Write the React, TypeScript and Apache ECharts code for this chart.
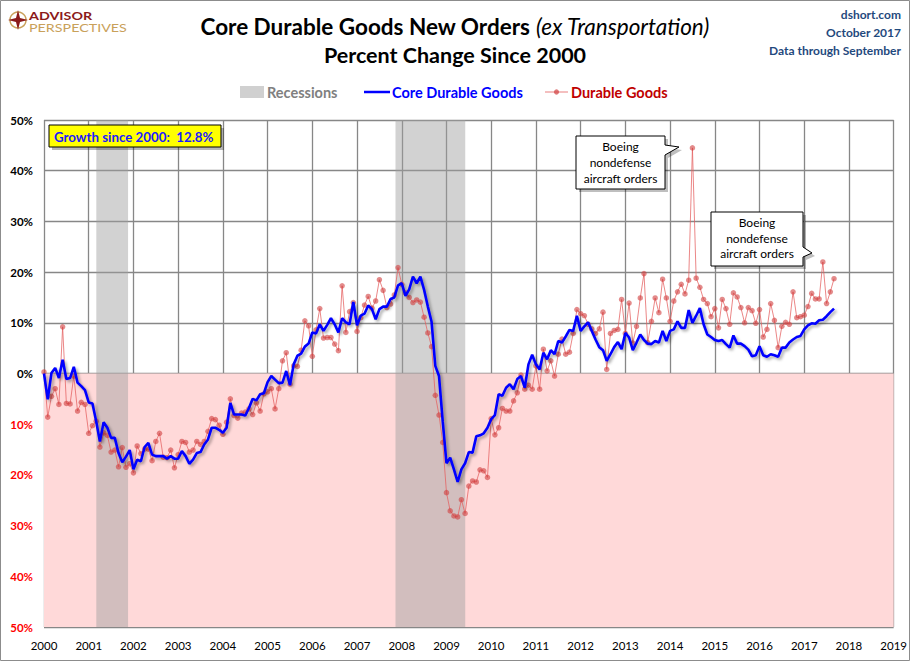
import React, { useEffect, useRef } from "react";
import * as echarts from "echarts";

const startYear = 2000;
const endYear = 2019;

// Durable Goods, % change since Jan 2000 (monthly, Jan 2000 - Sep 2017)
const durableGoods: number[] = [
  0.3, -8.6, -4.5, -3.0, -6.1, 9.2, -5.9, -6.0, -0.5, -7.4, -5.7, -6.1,
  -11.8, -10.3, -9.4, -14.5, -11.7, -12.2, -15.5, -15.1, -18.4, -14.6, -18.5, -17.8,
  -19.6, -14.3, -15.8, -14.9, -14.9, -17.2, -13.4, -11.8, -16.5, -16.6, -15.1, -18.6,
  -16.0, -13.4, -13.6, -15.5, -15.1, -13.4, -14.0, -13.4, -11.4, -8.9, -9.1, -10.2,
  -12.0, -9.6, -5.0, -8.3, -8.8, -7.8, -7.6, -7.0, -8.1, -5.8, -7.4, -4.0,
  -3.6, -3.0, -7.0, -3.0, 2.5, 4.1, -2.1, 1.5, 1.4, 4.6, 10.4, 9.4,
  3.4, 8.6, 12.8, 7.0, 7.1, 7.1, 5.8, 4.5, 17.3, 8.1, 12.2, 14.0,
  8.3, 11.0, 13.5, 15.2, 12.9, 14.3, 18.5, 16.4, 13.0, 13.7, 15.5, 20.9,
  17.6, 15.9, 15.0, 14.0, 14.5, 14.1, 11.1, 8.0, 5.3, -4.3, -8.2, -13.6,
  -23.5, -27.1, -28.1, -28.3, -24.9, -27.6, -22.2, -21.2, -21.4, -19.0, -19.2, -20.5,
  -8.9, -12.1, -10.7, -6.9, -7.4, -7.4, -5.4, -3.8, -0.3, -3.1, -2.3, -3.1,
  1.5, -3.1, 4.8, 0.5, 2.5, -0.5, 3.8, 6.8, 3.8, 4.2, 7.9, 12.6,
  11.8, 11.4, 9.7, 8.8, 7.9, 8.8, 12.1, 0.8, 7.9, 8.5, 8.7, 14.6,
  7.9, 13.9, 6.0, 9.3, 14.9, 19.7, 6.1, 10.3, 14.9, 12.0, 18.6, 14.9,
  10.3, 14.3, 16.1, 17.6, 15.7, 18.4, 44.5, 18.8, 17.0, 14.6, 13.8, 11.2,
  12.8, 9.0, 14.6, 12.8, 9.7, 15.9, 15.1, 13.0, 10.0, 13.0, 12.4, 9.9,
  12.6, 7.2, 8.7, 13.8, 10.5, 5.1, 9.3, 10.1, 9.7, 16.1, 11.0, 11.2,
  11.5, 13.2, 15.8, 14.7, 14.7, 22.0, 13.8, 16.1, 18.7,
];

// Core Durable Goods (ex Transportation), % change since Jan 2000
const coreDurableGoods: number[] = [
  0, -5.1, 0.1, 1.1, -0.9, 2.7, -1.1, -0.9, 1.3, -1.8, -2.5, -3.3,
  -5.7, -5.9, -9.4, -13.4, -9.6, -10.7, -12.7, -12.7, -15.7, -17.5, -16.4, -15.1,
  -18.9, -17.0, -17.3, -14.5, -13.7, -16.0, -16.3, -16.3, -16.3, -16.8, -16.3, -16.8,
  -16.8, -15.3, -16.3, -17.8, -17.0, -15.7, -15.5, -14.0, -13.0, -10.7, -10.7, -11.1,
  -11.7, -10.7, -5.8, -8.1, -8.1, -8.1, -8.3, -6.8, -5.0, -5.3, -4.1, -3.9,
  -1.7, -0.5, -1.2, -1.9, -1.8, 0.5, -2.3, 1.8, 3.5, 3.9, 5.3, 5.9,
  8.1, 7.9, 9.7, 8.4, 9.6, 10.9, 9.7, 8.1, 10.9, 10.1, 9.7, 14.1,
  9.5, 11.4, 11.8, 13.4, 12.7, 10.7, 12.7, 13.2, 13.2, 14.7, 15.0, 17.4,
  17.8, 15.3, 16.6, 19.1, 17.8, 19.1, 16.5, 13.2, 10.2, 1.5, -0.5, -9.5,
  -17.7, -16.6, -18.9, -21.4, -18.9, -17.7, -15.5, -15.6, -12.4, -12.2, -11.8, -10.7,
  -9.0, -8.2, -4.1, -4.4, -2.8, -2.1, -3.1, -1.1, -0.5, -2.8, 1.8, 3.7,
  1.8, 0.8, 4.1, 2.8, 4.6, 3.8, 6.4, 6.1, 7.3, 8.6, 8.4, 11.4,
  8.4, 9.3, 10.1, 8.4, 6.7, 5.2, 4.6, 2.5, 3.8, 5.2, 6.2, 4.8,
  8.0, 7.1, 4.6, 6.1, 7.7, 6.6, 5.9, 5.8, 6.4, 6.1, 8.4, 6.4,
  8.4, 8.7, 10.3, 9.0, 9.0, 12.5, 10.0, 11.4, 12.9, 9.7, 7.7, 7.2,
  6.6, 6.4, 6.6, 5.8, 5.1, 7.5, 5.9, 5.9, 5.4, 4.7, 3.4, 3.6,
  5.4, 3.6, 3.3, 3.8, 3.6, 3.3, 5.1, 5.1, 6.1, 6.7, 7.2, 7.4,
  8.7, 9.5, 9.9, 9.8, 10.5, 10.6, 11.3, 12.1, 12.8,
];

// Recessions (decimal years)
const recessionStarts = [2001.17, 2007.86];
const recessionEnds = [2001.88, 2009.42];

const headerLines = ["dshort.com", "October 2017", "Data through September"];
const calloutLines = ["Boeing", "nondefense", "aircraft orders"];

const FONT = "Lato, 'Open Sans', 'DejaVu Sans', sans-serif";

export default function App() {
  const ref = useRef<HTMLDivElement>(null);

  useEffect(() => {
    if (!ref.current) return;
    const chart = echarts.init(ref.current, null, { renderer: "svg" });
    const toXY = (arr: number[]) => arr.map((v, i) => [startYear + i / 12, v]);
    const growth = coreDurableGoods[coreDurableGoods.length - 1].toFixed(1);

    const calloutText = (cx: number, ys: number[]) =>
      calloutLines.map((t, i) => ({
        type: "text",
        x: cx,
        y: ys[i],
        z: 20,
        style: {
          text: t,
          fill: "#000",
          font: `12px ${FONT}`,
          align: "center",
          verticalAlign: "middle",
        },
      }));

    const option: any = {
      animation: false,
      backgroundColor: "#fff",
      grid: { left: 44, right: 16, top: 120, bottom: 34, containLabel: false },
      xAxis: {
        type: "value",
        min: startYear,
        max: endYear,
        interval: 1,
        z: 1,
        axisLine: { show: false },
        axisTick: { show: false },
        splitLine: { show: true, lineStyle: { color: "#878787", width: 1.3 } },
        axisLabel: {
          margin: 12,
          color: "#000",
          fontFamily: FONT,
          fontSize: 11.5,
          formatter: (v: number) => String(v),
        },
      },
      yAxis: {
        type: "value",
        min: -50,
        max: 50,
        interval: 10,
        z: 1,
        axisLine: { show: false },
        axisTick: { show: false },
        splitLine: { show: true, lineStyle: { color: "#878787", width: 1.3 } },
        axisLabel: {
          margin: 11,
          formatter: (v: number) => (v < 0 ? `{n|${-v}%}` : `{p|${v}%}`),
          rich: {
            n: { color: "#ff0000", fontWeight: "bold", fontFamily: FONT, fontSize: 11.5 },
            p: { color: "#000", fontWeight: "bold", fontFamily: FONT, fontSize: 11.5 },
          },
        },
      },
      series: [
        {
          type: "line",
          name: "background",
          z: 0,
          silent: true,
          data: [[startYear, 0]],
          symbol: "none",
          lineStyle: { opacity: 0 },
          markArea: {
            silent: true,
            data: [
              [
                { yAxis: 0, itemStyle: { color: "#ffd9d9" } },
                { yAxis: -50 },
              ],
              ...recessionStarts.map((s, i) => [
                { xAxis: s, itemStyle: { color: "rgba(160,160,160,0.47)" } },
                { xAxis: recessionEnds[i] },
              ]),
            ],
          },
        },
        {
          type: "line",
          name: "Durable Goods",
          z: 2,
          data: toXY(durableGoods),
          symbol: "circle",
          symbolSize: 5.5,
          showSymbol: true,
          itemStyle: { color: "rgba(208,62,62,0.6)", borderWidth: 0 },
          lineStyle: { color: "rgba(228,95,95,0.75)", width: 1 },
        },
        {
          type: "line",
          name: "Core Durable Goods",
          z: 3,
          data: toXY(coreDurableGoods),
          symbol: "none",
          lineStyle: {
            color: "#0000ff",
            width: 2.6,
            shadowColor: "rgba(0,0,0,0.35)",
            shadowBlur: 3,
            shadowOffsetX: 2,
            shadowOffsetY: 2,
          },
        },
      ],
      graphic: [
        // outer border
        {
          type: "rect",
          z: 30,
          shape: { x: 0.5, y: 0.5, width: 909, height: 660 },
          style: { fill: "none", stroke: "#8c8c8c", lineWidth: 1 },
        },
        // logo
        {
          type: "circle",
          z: 20,
          shape: { cx: 18, cy: 20, r: 8 },
          style: { fill: "none", stroke: "#c9a15a", lineWidth: 1.5 },
        },
        {
          type: "polygon",
          z: 21,
          shape: {
            points: [
              [18, 10], [20, 18], [28, 20], [20, 22], [18, 30], [16, 22], [8, 20], [16, 18],
            ],
          },
          style: { fill: "#8b1a1a" },
        },
        {
          type: "text",
          x: 29,
          y: 15.5,
          z: 20,
          scaleX: 1.3,
          style: {
            text: "ADVISOR",
            fill: "#8b1a1a",
            font: `bold 11px ${FONT}`,
            align: "left",
            verticalAlign: "middle",
          },
        },
        {
          type: "text",
          x: 29,
          y: 27.5,
          z: 20,
          scaleX: 1.3,
          style: {
            text: "PERSPECTIVES",
            fill: "#c9a15a",
            font: `11px ${FONT}`,
            align: "left",
            verticalAlign: "middle",
          },
        },
        // title
        {
          type: "text",
          x: 455,
          y: 26,
          z: 20,
          style: {
            text: "{b|Core Durable Goods New Orders }{i|(ex Transportation)}",
            align: "center",
            verticalAlign: "middle",
            rich: {
              b: { fontFamily: FONT, fontSize: 22.5, fontWeight: "bold", fill: "#000" },
              i: { fontFamily: FONT, fontSize: 22.5, fontStyle: "italic", fill: "#000" },
            },
          },
        },
        {
          type: "text",
          x: 455,
          y: 55,
          z: 20,
          style: {
            text: "Percent Change Since 2000",
            fill: "#000",
            font: `bold 21.5px ${FONT}`,
            align: "center",
            verticalAlign: "middle",
          },
        },
        // header right
        ...headerLines.map((t, i) => ({
          type: "text",
          x: 901,
          y: 14 + i * 18,
          z: 20,
          style: {
            text: t,
            fill: "#1f497d",
            font: `bold 12px ${FONT}`,
            align: "right",
            verticalAlign: "middle",
          },
        })),
        // legend
        {
          type: "rect",
          z: 20,
          shape: { x: 240, y: 86, width: 24, height: 12 },
          style: { fill: "#d0d0d0" },
        },
        {
          type: "text",
          x: 267,
          y: 92,
          z: 20,
          style: {
            text: "Recessions",
            fill: "#808080",
            font: `bold 14.5px ${FONT}`,
            align: "left",
            verticalAlign: "middle",
          },
        },
        {
          type: "line",
          z: 20,
          shape: { x1: 364, y1: 92, x2: 390, y2: 92 },
          style: { stroke: "#0000ff", lineWidth: 2.5 },
        },
        {
          type: "text",
          x: 392,
          y: 92,
          z: 20,
          style: {
            text: "Core Durable Goods",
            fill: "#0000ff",
            font: `bold 14.5px ${FONT}`,
            align: "left",
            verticalAlign: "middle",
          },
        },
        {
          type: "line",
          z: 20,
          shape: { x1: 545, y1: 92, x2: 568, y2: 92 },
          style: { stroke: "rgba(228,95,95,0.8)", lineWidth: 1 },
        },
        {
          type: "circle",
          z: 21,
          shape: { cx: 556.5, cy: 92, r: 2.6 },
          style: { fill: "rgba(208,62,62,0.7)" },
        },
        {
          type: "text",
          x: 571,
          y: 92,
          z: 20,
          style: {
            text: "Durable Goods",
            fill: "#c00000",
            font: `bold 14.5px ${FONT}`,
            align: "left",
            verticalAlign: "middle",
          },
        },
        // growth box
        {
          type: "rect",
          z: 19,
          shape: { x: 52, y: 128, width: 172, height: 22 },
          style: { fill: "rgba(0,0,0,0.28)" },
        },
        {
          type: "rect",
          z: 20,
          shape: { x: 49, y: 125, width: 172, height: 22 },
          style: { fill: "#ffff00", stroke: "#000", lineWidth: 1 },
        },
        {
          type: "text",
          x: 54,
          y: 136.5,
          z: 21,
          style: {
            text: `Growth since 2000:  ${growth}%`,
            fill: "#1a1aff",
            font: `bold 13.3px ${FONT}`,
            align: "left",
            verticalAlign: "middle",
          },
        },
        // callout 1
        {
          type: "polygon",
          z: 19,
          shape: {
            points: [
              [579, 139], [668, 139], [668, 148], [682, 150], [668, 158], [668, 192], [579, 192],
            ],
          },
          style: { fill: "rgba(0,0,0,0.25)" },
        },
        {
          type: "polygon",
          z: 20,
          shape: {
            points: [
              [576, 136], [665, 136], [665, 145], [679, 147], [665, 155], [665, 189], [576, 189],
            ],
          },
          style: { fill: "#fff", stroke: "#000", lineWidth: 1 },
        },
        ...calloutText(620.5, [146.5, 162.5, 178.5]),
        // callout 2
        {
          type: "polygon",
          z: 19,
          shape: {
            points: [
              [714, 215], [806, 215], [806, 250], [815, 256], [806, 260], [806, 269], [714, 269],
            ],
          },
          style: { fill: "rgba(0,0,0,0.25)" },
        },
        {
          type: "polygon",
          z: 20,
          shape: {
            points: [
              [711, 212], [803, 212], [803, 247], [812, 253], [803, 257], [803, 266], [711, 266],
            ],
          },
          style: { fill: "#fff", stroke: "#000", lineWidth: 1 },
        },
        ...calloutText(757, [222.5, 238.5, 253.5]),
      ],
    };

    chart.setOption(option);
    return () => chart.dispose();
  }, []);

  return (
    <div
      ref={ref}
      style={{
        position: "fixed",
        left: 0,
        top: 0,
        width: 910,
        height: 661,
        background: "#fff",
      }}
    />
  );
}
